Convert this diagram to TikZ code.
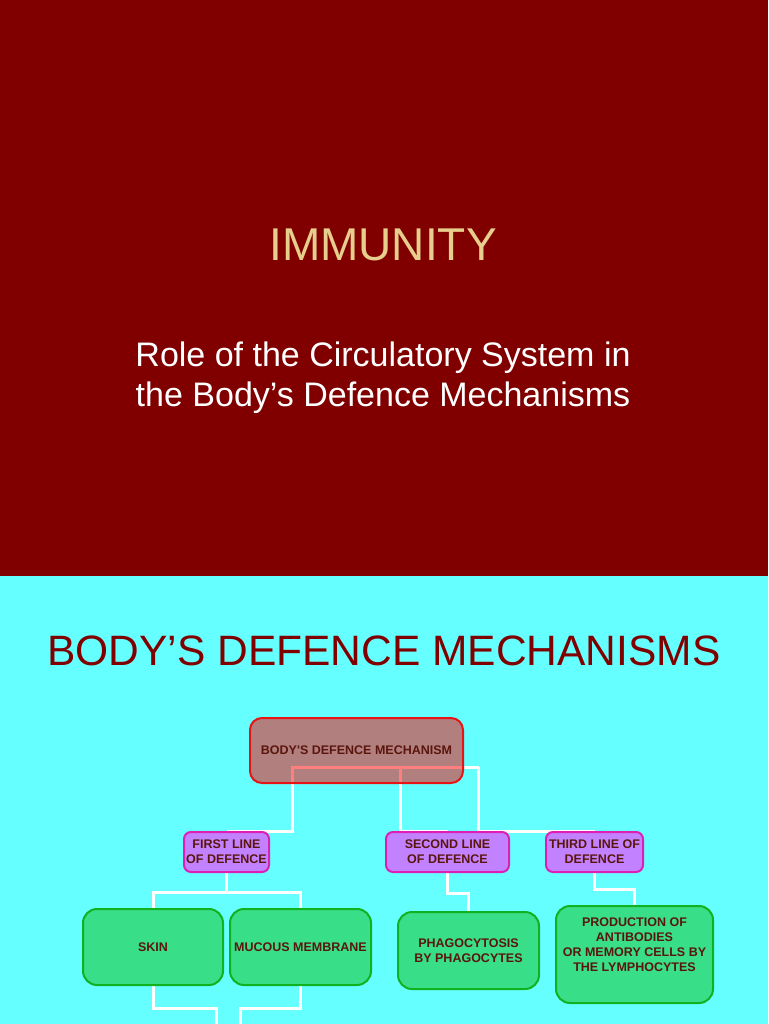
\documentclass[tikz,border=0pt]{standalone}
\usepackage{fontspec}
\setmainfont{Liberation Sans}
\usetikzlibrary{calc}
\definecolor{bgred}{RGB}{128,0,0}
\definecolor{bgcyan}{RGB}{102,255,255}
\definecolor{titletan}{RGB}{232,206,140}
\definecolor{headred}{RGB}{128,0,0}
\definecolor{boxtext}{RGB}{90,22,12}
\definecolor{rootline}{RGB}{230,20,20}
\definecolor{purplefill}{RGB}{194,130,255}
\definecolor{purpleline}{RGB}{222,30,180}
\definecolor{greenfill}{RGB}{56,222,136}
\definecolor{greenline}{RGB}{16,178,32}
\pgfdeclarelayer{bglayer}
\pgfdeclarelayer{linelayer}
\pgfsetlayers{bglayer,linelayer,main}
\tikzset{
  boxtxt/.style={font=\bfseries\fontsize{12.5}{15}\selectfont, text=boxtext, align=center, inner sep=0pt},
  rootbox/.style={boxtxt, draw=rootline, line width=2pt, fill=red, fill opacity=0.5, text opacity=1, rounded corners=12pt},
  linebox/.style={boxtxt, draw=purpleline, line width=2pt, fill=purplefill, rounded corners=7pt, minimum height=40pt},
  leafbox/.style={boxtxt, draw=greenline, line width=2pt, fill=greenfill, rounded corners=14pt},
  conn/.style={draw=white, line width=3pt},
}
\begin{document}
\begin{tikzpicture}[x=1pt,y=-1pt]
\useasboundingbox (0,0) rectangle (768,1024);
\begin{pgfonlayer}{bglayer}
  \fill[bgred] (0,0) rectangle (768,576);
  \fill[bgcyan] (0,576) rectangle (768,1024);
\end{pgfonlayer}

\node[anchor=base, text=titletan, font=\fontsize{46}{50}\selectfont, inner sep=0pt] (title) at (383,260) {IMMUNITY};
\node[anchor=base, text=white, font=\fontsize{34}{40}\selectfont, inner sep=0pt] (sub1) at (383,366) {Role of the Circulatory System in};
\node[anchor=base, text=white, font=\fontsize{34}{40}\selectfont, inner sep=0pt] (sub2) at (383,406) {the Body’s Defence Mechanisms};

\node[anchor=base, text=headred, font=\fontsize{42.5}{46}\selectfont, inner sep=0pt] (head) at (384,665) {BODY’S DEFENCE MECHANISMS};

\node[rootbox, minimum width=213pt, minimum height=65pt] (root) at (356.5,750.5) {BODY\textquotesingle S DEFENCE MECHANISM};

\node[linebox, minimum width=85pt] (first) at (226.5,852) {FIRST LINE\\OF DEFENCE};
\node[linebox, minimum width=123pt] (second) at (447.5,852) {SECOND LINE\\OF DEFENCE};
\node[linebox, minimum width=97pt] (third) at (594.5,852) {THIRD LINE OF\\DEFENCE};

\node[leafbox, minimum width=140pt, minimum height=76pt] (skin) at (153,947) {SKIN};
\node[leafbox, minimum width=141pt, minimum height=76pt] (mucous) at (300.5,947) {MUCOUS MEMBRANE};
\node[leafbox, minimum width=141pt, minimum height=77pt] (phago) at (468.5,950.5) {PHAGOCYTOSIS\\BY PHAGOCYTES};
\node[leafbox, minimum width=157pt, minimum height=97pt] (prod) at (634.5,954.5) {PRODUCTION OF\\ANTIBODIES\\OR MEMORY CELLS BY\\THE LYMPHOCYTES\\[4pt]\mbox{}};

\coordinate (offL) at (216,1040);
\coordinate (offR) at (240,1040);

\begin{pgfonlayer}{linelayer}
  \draw[conn] (first.north) -| ([shift={(-64.5,16.5)}]root.center) -- ([shift={(122,16.5)}]root.center);
  \draw[conn] (second.north) -| ([shift={(43.5,16.5)}]root.center);
  \draw[conn] (third.north) -| ([shift={(122,16.5)}]root.center);
  \draw[conn] (first.south) -- ++(0,19);
  \draw[conn] (skin.north) |- ($(first.south)+(0,19)$) -| (mucous.north);
  \draw[conn] (skin.south) -- ++(0,22) -| (offL);
  \draw[conn] (mucous.south) -- ++(0,22) -| (offR);
  \draw[conn] (second.south) -- ++(0,20) -| (phago.north);
  \draw[conn] (third.south) -- ++(0,16) -| (prod.north);
\end{pgfonlayer}
\end{tikzpicture}
\end{document}
